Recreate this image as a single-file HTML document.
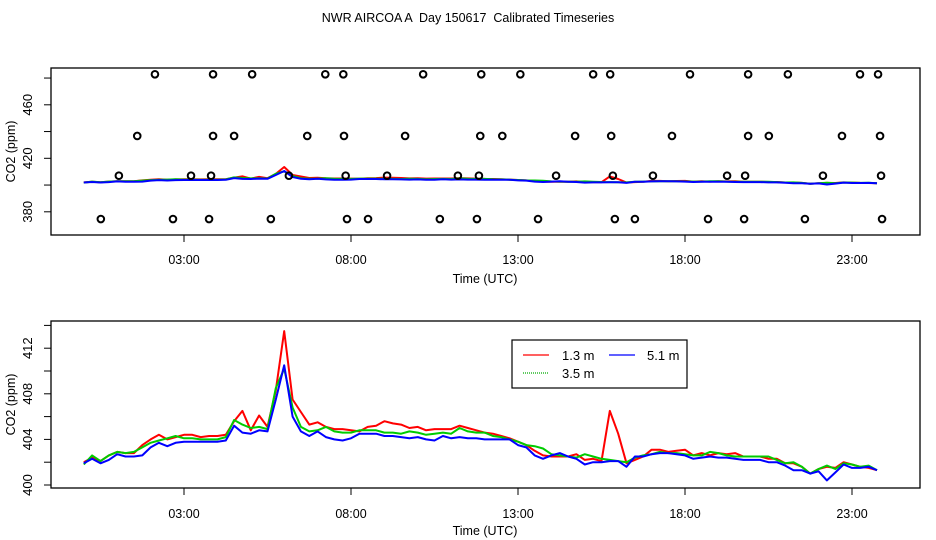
<!DOCTYPE html>
<html><head><meta charset="utf-8"><style>
body{margin:0;background:#fff}
svg{display:block;font-family:"Liberation Sans",sans-serif}
text{white-space:pre}
</style></head><body>
<svg id="c" width="936" height="540" xmlns="http://www.w3.org/2000/svg">
<text x="468" y="22" text-anchor="middle" font-size="12.5" xml:space="preserve">NWR AIRCOA A  Day 150617  Calibrated Timeseries</text>
<g id="top"></g>
<g id="bot"></g>
</svg>
<script>
const xTickHours=[3,8,13,18,23];
const xTickLabels=["03:00","08:00","13:00","18:00","23:00"];
const topYTicks=[480,460,440,420,400,380];
const topYLabels=[460,420,380];
const botYTicks=[400,402,404,406,408,410,412,414];
const botYLabels=[400,404,408,412];
const timeStep=0.25;
const red=[402.0,402.4,402.1,402.6,402.9,402.8,402.8,403.5,404.0,404.4,404.0,404.2,404.4,404.4,404.2,404.3,404.3,404.4,405.6,406.5,404.8,406.1,405.1,408.3,413.5,407.5,406.4,405.3,405.5,405.1,404.9,404.9,404.8,404.7,405.1,405.2,405.6,405.4,405.3,405.0,405.1,404.8,404.9,404.9,404.9,405.2,405.0,404.8,404.6,404.5,404.3,404.1,403.8,403.5,403.0,402.6,402.5,402.5,402.5,402.7,402.2,402.3,402.1,406.5,404.5,401.9,402.2,402.5,403.1,403.1,402.9,403.0,403.1,402.6,402.8,402.6,402.8,402.7,402.8,402.5,402.5,402.5,402.3,402.3,401.9,401.9,401.6,401.0,401.4,401.6,401.5,402.0,401.8,401.6,401.5,401.3];
const green=[401.8,402.6,402.1,402.6,402.9,402.8,402.9,403.3,403.7,403.9,404.1,404.3,404.1,404.1,404.0,404.0,404.0,404.2,405.7,405.3,405.0,405.1,404.9,408.5,410.2,406.8,405.1,404.7,404.8,405.1,404.7,404.6,404.6,404.8,404.8,404.8,404.6,404.6,404.5,404.7,404.6,404.4,404.5,404.6,404.5,405.0,404.7,404.6,404.6,404.3,404.2,404.0,403.8,403.5,403.4,403.2,402.7,402.6,402.5,402.4,402.7,402.5,402.3,402.2,402.1,402.0,402.4,402.6,402.7,402.9,402.8,402.8,402.7,402.6,402.6,402.9,402.8,402.6,402.5,402.5,402.5,402.5,402.5,402.2,401.9,402.0,401.6,401.0,401.4,401.7,401.4,401.9,401.8,401.6,401.7,401.3];
const blue=[401.9,402.3,401.9,402.2,402.7,402.5,402.5,402.6,403.3,403.7,403.4,403.7,403.8,403.8,403.8,403.8,403.8,403.9,405.2,404.6,404.5,404.8,404.7,407.5,410.5,406.0,404.7,404.3,404.7,404.2,404.0,403.9,404.1,404.5,404.5,404.5,404.3,404.3,404.2,404.1,404.2,404.0,403.9,404.3,404.1,404.2,404.1,404.1,404.0,404.0,404.0,404.0,403.5,403.3,402.6,402.3,402.6,402.8,402.5,402.3,401.8,402.0,402.0,402.1,402.1,401.6,402.5,402.5,402.7,402.8,402.8,402.7,402.6,402.3,402.4,402.5,402.4,402.4,402.3,402.2,402.2,402.2,402.0,402.0,401.7,401.3,401.3,401.0,401.2,400.4,401.1,401.8,401.5,401.5,401.6,401.3];
const flagHours=[2.13,3.87,5.04,7.23,7.77,10.16,11.9,13.07,15.25,15.76,18.15,19.89,21.08,23.24,23.78,
1.60,3.87,4.50,6.69,7.79,9.62,11.87,12.53,14.71,15.79,17.61,19.89,20.51,22.70,23.84,
1.05,3.21,3.81,6.14,7.84,9.08,11.20,11.83,14.14,15.84,17.04,19.26,19.80,22.13,23.87,
0.51,2.67,3.75,5.60,7.88,8.51,10.66,11.77,13.60,15.90,16.50,18.69,19.77,21.59,23.90];
const flagValues=[482.8,482.8,482.8,482.8,482.8,482.8,482.8,482.8,482.8,482.8,482.8,482.8,482.8,482.8,482.8,
436.7,436.7,436.7,436.7,436.7,436.7,436.7,436.7,436.7,436.7,436.7,436.7,436.7,436.7,436.7,
407,407,407,407,407,407,407,407,407,407,407,407,407,407,407,
374.6,374.6,374.6,374.6,374.6,374.6,374.6,374.6,374.6,374.6,374.6,374.6,374.6,374.6,374.6];

const NS="http://www.w3.org/2000/svg";
function mk(parent,tag,attrs){const e=document.createElementNS(NS,tag);for(const k in attrs)e.setAttribute(k,attrs[k]);parent.appendChild(e);return e;}
const xs=h=>83.8+33.4*h;
const L=51,R=920;
function panel(g,top,bot,ys,yTicks,yLabels,tickLabY,axLabY){
  const box=mk(g,'rect',{x:L,y:top,width:R-L,height:bot-top,fill:'none',stroke:'#000','stroke-width':1.3});
  
  
  yTicks.forEach(v=>{const t=mk(g,'line',{x1:L,x2:L-7,y1:ys(v),y2:ys(v),stroke:'#000'});
    
    });
  yLabels.forEach(v=>{const y=ys(v);const t=mk(g,'text',{x:0,y:0,transform:`translate(32,${y}) rotate(-90)`,'text-anchor':'middle','font-size':13});t.textContent=v;
    
    });
  const yl=mk(g,'text',{transform:`translate(15,${(top+bot)/2}) rotate(-90)`,'text-anchor':'middle','font-size':12.5});yl.textContent='CO2 (ppm)';
  
  
  xTickHours.forEach((h,i)=>{const x=xs(h);const t=mk(g,'line',{x1:x,x2:x,y1:bot,y2:bot+7,stroke:'#000'});
    
    
    const tl=mk(g,'text',{x:x,y:tickLabY,'text-anchor':'middle','font-size':12.5});tl.textContent=xTickLabels[i];
    
    });
  const xl=mk(g,'text',{x:485,y:axLabY,'text-anchor':'middle','font-size':12.5});xl.textContent='Time (UTC)';
  
  
  [[red,'#f00','series-1-3m'],[green,'#0c0','series-3-5m'],[blue,'#00f','series-5-1m']].forEach(([arr,col,nm])=>{
    const pts=arr.map((v,i)=>xs(i*timeStep).toFixed(1)+','+ys(v).toFixed(1)).join(' ');
    const p=mk(g,'polyline',{points:pts,fill:'none',stroke:col,'stroke-width':2,'stroke-linejoin':'round'});
    
    
  });
}
const topY=v=>158.3-(v-420)*1.3375;
const botY=v=>485-(v-400)*11.4;
const gt=document.getElementById('top'),gb=document.getElementById('bot');
panel(gt,68,235,topY,topYTicks,topYLabels,264,283);
flagHours.forEach((h,i)=>{const c=mk(gt,'circle',{cx:xs(h),cy:topY(flagValues[i]),r:3.3,fill:'none',stroke:'#000','stroke-width':2});
  
  });
panel(gb,321,488,botY,botYTicks,botYLabels,518,535);
const lg=mk(gb,'g',{});


mk(lg,'rect',{x:512,y:340,width:175,height:48,fill:'#fff',stroke:'#000','stroke-width':1.2});
[[523,355,'#f00','1.3 m',562,false],[609,355,'#00f','5.1 m',647,false],[523,373,'#0a0','3.5 m',562,true]].forEach(([x,y,col,lab,tx,dot])=>{
  const ln=mk(lg,'line',{x1:x,x2:x+26,y1:y,y2:y,stroke:col,'stroke-width':1.2,'stroke-dasharray':dot?'1 1':'none'});
  
  
  const t=mk(lg,'text',{x:tx,y:y+5,'font-size':13});t.textContent=lab;
  
  
});
</script>
</body></html>
